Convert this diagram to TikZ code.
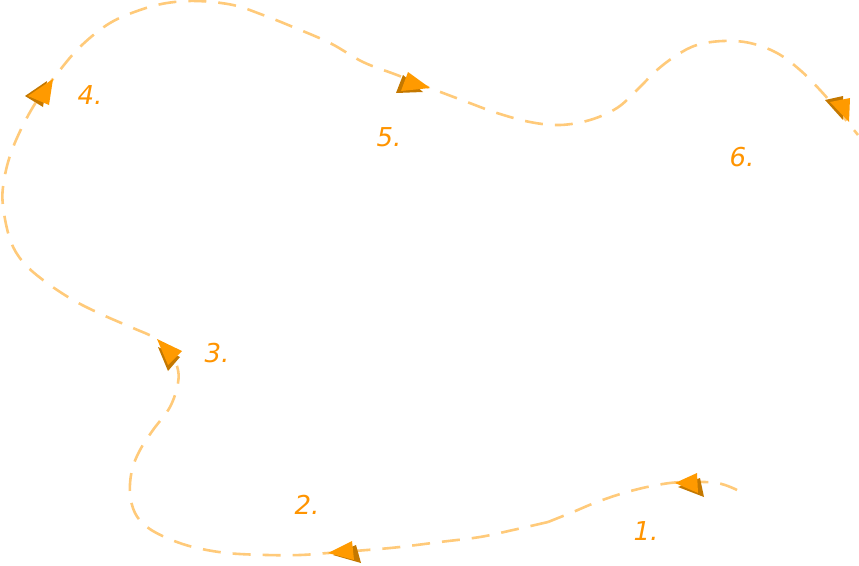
\documentclass[tikz,border=0pt]{standalone}
\usepackage{fontspec}
\newfontfamily\lblfont{DejaVu Sans}
\definecolor{trail}{HTML}{FFCA7A}
\definecolor{tipmain}{HTML}{FF9A00}
\definecolor{tipshade}{HTML}{C47800}
\definecolor{lblcol}{HTML}{FF9400}
\begin{document}
\begin{tikzpicture}[x=1pt,y=-1pt,
  trailline/.style={draw=trail,line width=2.6pt,dash pattern=on 18pt off 12pt},
  lbl/.style={text=lblcol,font=\lblfont\itshape\fontsize{26}{26}\selectfont,inner sep=0pt},
  tipm/.style={fill=tipmain,draw=none},
  tips/.style={fill=tipshade,draw=none}]
\useasboundingbox (0,0) rectangle (859,565);
% dashed trail
\draw[trailline] plot[smooth,tension=0.6] coordinates {(737,490) (717,483) (683,482) (657,485) (627,492) (597,502) (573,512) (548,522)};
\draw[trailline] plot[smooth,tension=0.6] coordinates {(548,522) (513,530) (480,537) (440,542) (400,547) (367,550) (328,553) (300,555) (267,555) (227,553) (193,547) (167,538) (147,527) (135,513) (130,493) (132,470) (140,450) (153,430) (170,407) (178,383) (177,366) (168,350) (155,338) (133,328) (103,315) (73,300) (43,280) (23,262) (11,242) (4,213) (3,187) (12,150) (33,107) (60,70) (82,45) (110,23) (140,10) (167,3) (197,1) (233,5) (263,15) (293,27) (330,43) (363,62) (397,75) (430,88) (467,102) (497,113) (530,122) (560,125) (590,120) (617,108) (637,90) (657,70) (677,55) (697,45) (723,41) (750,43) (777,53) (800,70) (820,90) (840,113) (858,135)};
% arrow tips
\fill[tips] (678,487) -- (700,478) -- (704,497) -- cycle;
\fill[tipm] (675,483) -- (697,473) -- (698,493) -- cycle;
\fill[tips] (333,555) -- (356,545) -- (361,563) -- cycle;
\fill[tipm] (328,553) -- (352,541) -- (354,560) -- cycle;
\fill[tips] (158,347) -- (180,357) -- (168,371) -- cycle;
\fill[tipm] (157,339) -- (182,351) -- (168,365) -- cycle;
\fill[tips] (47,81) -- (43,107) -- (25,96) -- cycle;
\fill[tipm] (53,79) -- (49,105) -- (28,96) -- cycle;
\fill[tips] (403,75) -- (423,92) -- (396,93) -- cycle;
\fill[tipm] (408,72) -- (430,88) -- (401,91) -- cycle;
\fill[tips] (825,100) -- (843,96) -- (843,120) -- cycle;
\fill[tipm] (830,102) -- (850,98) -- (849,122) -- cycle;
% labels
\node[lbl] (l1) at (646,531) {1.};
\node[lbl] (l2) at (307,505) {2.};
\node[lbl] (l3) at (217,353) {3.};
\node[lbl] (l4) at (90,95) {4.};
\node[lbl] (l5) at (389,137) {5.};
\node[lbl] (l6) at (742,157) {6.};
\end{tikzpicture}
\end{document}
